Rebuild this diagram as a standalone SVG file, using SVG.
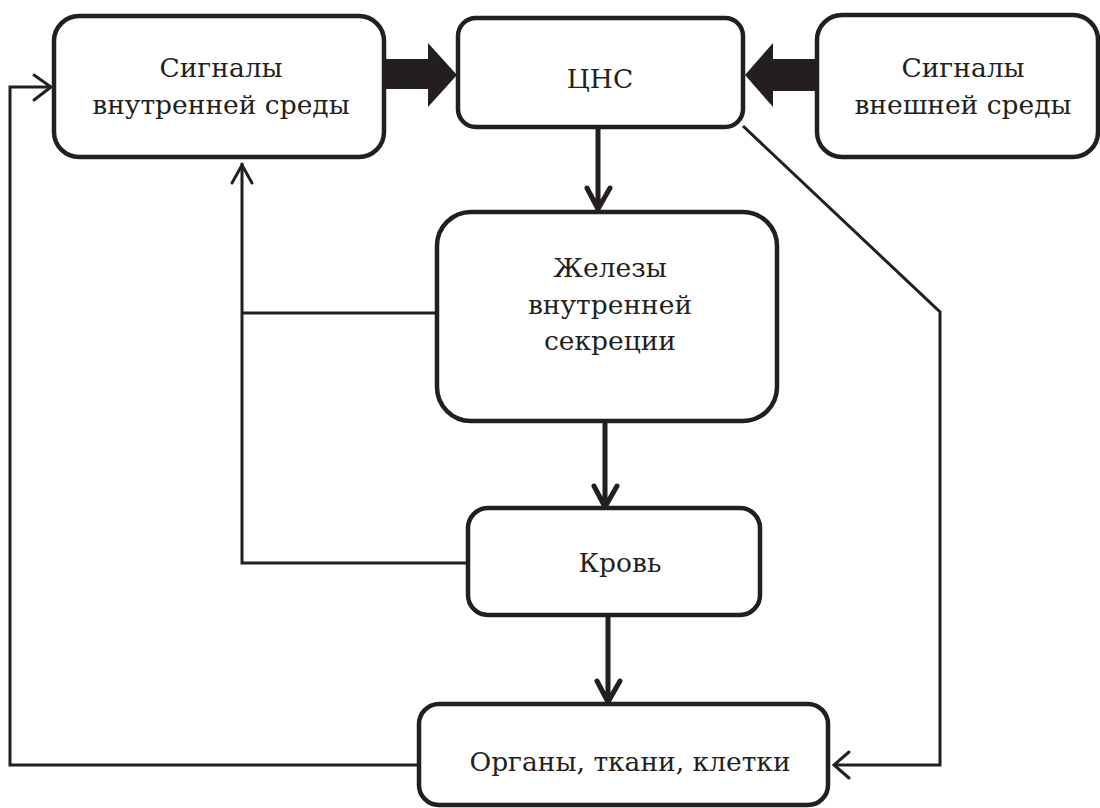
<svg xmlns="http://www.w3.org/2000/svg" width="1100" height="808" viewBox="0 0 1100 808">
<defs>
<style>
.box{fill:#fff;stroke:#231f20;stroke-width:4.5}
.ln{fill:none;stroke:#231f20;stroke-width:3;stroke-linejoin:miter}
.thick{fill:none;stroke:#231f20;stroke-width:5;stroke-linecap:round;stroke-linejoin:round}
.blk{fill:#231f20}
text{font-family:"DejaVu Serif",serif;font-size:26.5px;fill:#231f20;text-anchor:middle}
</style>
</defs>
<rect width="1100" height="808" fill="#fff"/>
<g id="connectors">
<polygon class="blk" points="383,59 428,59 428,43 457,75 428,107 428,89 383,89"/>
<polygon class="blk" points="817,59 773,59 773,43 745,75 773,107 773,91 817,91"/>
<path class="thick" d="M598,127 V208 M587,188 L598,209 L610,188"/>
<path class="thick" d="M605,424 V506 M594,486 L605,507 L617,486"/>
<path class="thick" d="M608,617 V701 M597,681 L608,702 L620,681"/>
<path class="ln" d="M437,313 H242 M468,563 H242 V163"/>
<path class="ln" stroke-linecap="round" d="M232,183 L242,165 L252,183"/>
<path class="ln" d="M419,765 H10 V87 H51"/>
<path class="ln" stroke-linecap="round" d="M34,75 L51,87 L34,100"/>
<path class="ln" d="M743,126 L940,312 V765 H834"/>
<path class="ln" stroke-linecap="round" d="M849,752 L834,765 L849,778"/>
</g>
<g id="n1"><rect class="box" x="54" y="16" width="330" height="141" rx="25"/>
<text x="221" y="77">Сигналы</text><text x="221" y="114">внутренней среды</text></g>
<g id="n2"><rect class="box" x="458" y="18" width="285" height="109" rx="18"/>
<text x="600" y="88">ЦНС</text></g>
<g id="n3"><rect class="box" x="817" y="15" width="281" height="142" rx="25"/>
<text x="963" y="77">Сигналы</text><text x="963" y="114">внешней среды</text></g>
<g id="n4"><rect class="box" x="437" y="212" width="340" height="209" rx="34"/>
<text x="610" y="277">Железы</text><text x="610" y="314">внутренней</text><text x="610" y="350">секреции</text></g>
<g id="n5"><rect class="box" x="468" y="508" width="292" height="107" rx="20"/>
<text x="620" y="572">Кровь</text></g>
<g id="n6"><rect class="box" x="419" y="704" width="409" height="101" rx="20"/>
<text x="630" y="771">Органы, ткани, клетки</text></g>
</svg>
